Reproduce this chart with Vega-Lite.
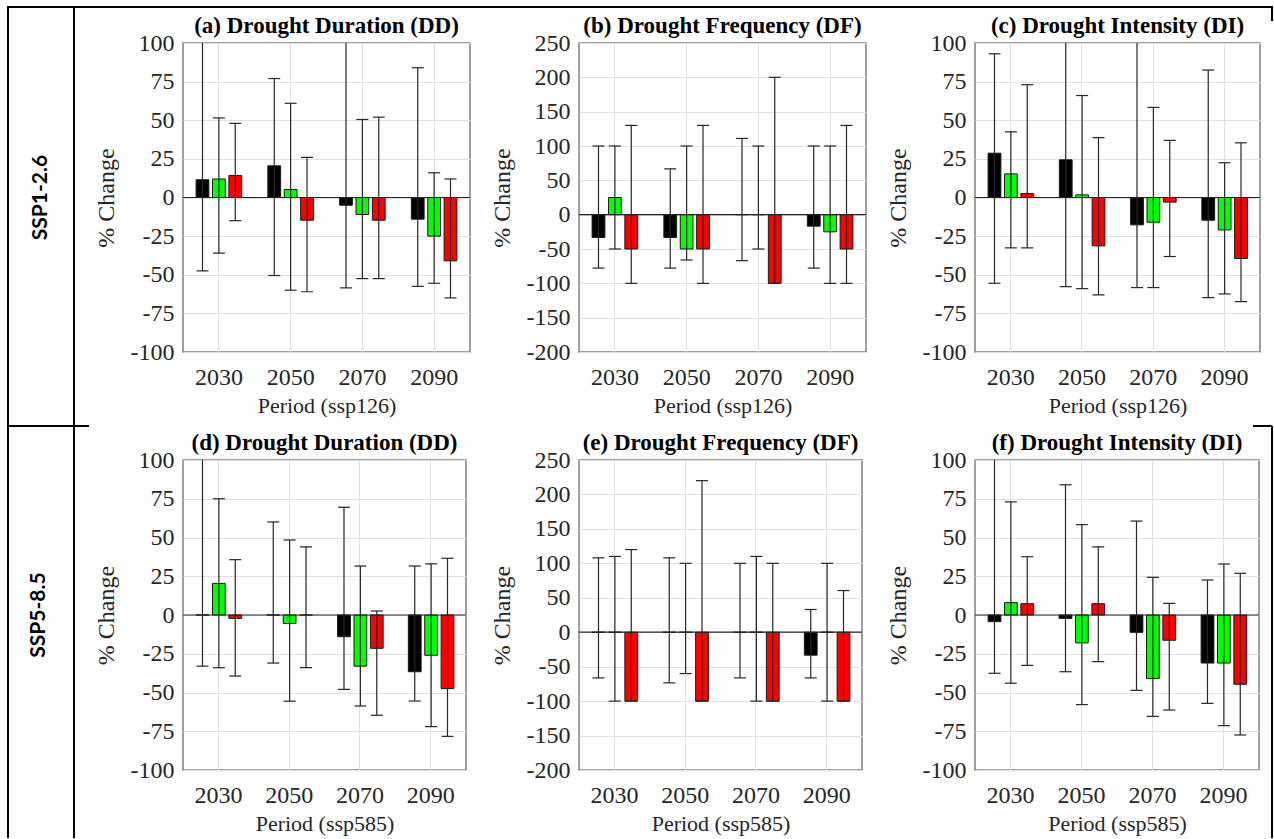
{
  "$schema": "https://vega.github.io/schema/vega-lite/v6.json",
  "background": "white",
  "padding": {"left": 6, "top": 5, "right": 0, "bottom": 0},
  "columns": 4,
  "align": "none",
  "bounds": "flush",
  "spacing": {"row": 108, "column": 109},
  "datasets": {
    "dd126": [
      {"period": "2030", "series": "A", "change": 11.5, "low": -47.5, "high": 125},
      {"period": "2030", "series": "B", "change": 12, "low": -36, "high": 51.5},
      {"period": "2030", "series": "C", "change": 14.3, "low": -15, "high": 48},
      {"period": "2050", "series": "A", "change": 20.5, "low": -50.5, "high": 77},
      {"period": "2050", "series": "B", "change": 5.2, "low": -60, "high": 61},
      {"period": "2050", "series": "C", "change": -14.7, "low": -61, "high": 26},
      {"period": "2070", "series": "A", "change": -5, "low": -58.5, "high": 125},
      {"period": "2070", "series": "B", "change": -11, "low": -52.5, "high": 50.5},
      {"period": "2070", "series": "C", "change": -14.7, "low": -52.5, "high": 52},
      {"period": "2090", "series": "A", "change": -14, "low": -57.5, "high": 84},
      {"period": "2090", "series": "B", "change": -25, "low": -55.5, "high": 16},
      {"period": "2090", "series": "C", "change": -41, "low": -65, "high": 12}
    ],
    "df126": [
      {"period": "2030", "series": "A", "change": -33.3, "low": -77.8, "high": 100},
      {"period": "2030", "series": "B", "change": 25, "low": -50, "high": 100},
      {"period": "2030", "series": "C", "change": -50, "low": -100, "high": 130},
      {"period": "2050", "series": "A", "change": -33.3, "low": -77.8, "high": 66.7},
      {"period": "2050", "series": "B", "change": -50, "low": -66, "high": 100},
      {"period": "2050", "series": "C", "change": -50, "low": -100, "high": 130},
      {"period": "2070", "series": "A", "change": 0, "low": -67, "high": 111},
      {"period": "2070", "series": "B", "change": 0, "low": -50, "high": 100},
      {"period": "2070", "series": "C", "change": -100, "low": -100, "high": 200},
      {"period": "2090", "series": "A", "change": -16.7, "low": -77.8, "high": 100},
      {"period": "2090", "series": "B", "change": -25, "low": -100, "high": 100},
      {"period": "2090", "series": "C", "change": -50, "low": -100, "high": 130}
    ],
    "di126": [
      {"period": "2030", "series": "A", "change": 28.7, "low": -55.5, "high": 93},
      {"period": "2030", "series": "B", "change": 15.3, "low": -32.6, "high": 42.5},
      {"period": "2030", "series": "C", "change": 2.6, "low": -32.6, "high": 73},
      {"period": "2050", "series": "A", "change": 24.4, "low": -57.7, "high": 125},
      {"period": "2050", "series": "B", "change": 1.7, "low": -59, "high": 66},
      {"period": "2050", "series": "C", "change": -31.3, "low": -63, "high": 38.7},
      {"period": "2070", "series": "A", "change": -17.7, "low": -58.3, "high": 125},
      {"period": "2070", "series": "B", "change": -16, "low": -58.3, "high": 58.3},
      {"period": "2070", "series": "C", "change": -3, "low": -38.2, "high": 37},
      {"period": "2090", "series": "A", "change": -14.7, "low": -64.8, "high": 82.5},
      {"period": "2090", "series": "B", "change": -21, "low": -62.4, "high": 22.5},
      {"period": "2090", "series": "C", "change": -39.5, "low": -67.4, "high": 35.4}
    ],
    "dd585": [
      {"period": "2030", "series": "A", "change": 0, "low": -33, "high": 125},
      {"period": "2030", "series": "B", "change": 20.4, "low": -34, "high": 75},
      {"period": "2030", "series": "C", "change": -2.2, "low": -39.4, "high": 35.7},
      {"period": "2050", "series": "A", "change": 0, "low": -31, "high": 60},
      {"period": "2050", "series": "B", "change": -5.5, "low": -55.6, "high": 48.4},
      {"period": "2050", "series": "C", "change": 0, "low": -34, "high": 44},
      {"period": "2070", "series": "A", "change": -14, "low": -48, "high": 69.5},
      {"period": "2070", "series": "B", "change": -33, "low": -58.7, "high": 31.6},
      {"period": "2070", "series": "C", "change": -21.5, "low": -64.7, "high": 2.6},
      {"period": "2090", "series": "A", "change": -36.6, "low": -55.5, "high": 31.6},
      {"period": "2090", "series": "B", "change": -26, "low": -72, "high": 33},
      {"period": "2090", "series": "C", "change": -47.5, "low": -78.3, "high": 36.6}
    ],
    "df585": [
      {"period": "2030", "series": "A", "change": 0, "low": -66.3, "high": 108},
      {"period": "2030", "series": "B", "change": 0, "low": -100, "high": 110},
      {"period": "2030", "series": "C", "change": -100, "low": -100, "high": 120},
      {"period": "2050", "series": "A", "change": 0, "low": -73.5, "high": 108},
      {"period": "2050", "series": "B", "change": 0, "low": -60, "high": 100},
      {"period": "2050", "series": "C", "change": -100, "low": -100, "high": 220},
      {"period": "2070", "series": "A", "change": 0, "low": -66.3, "high": 100},
      {"period": "2070", "series": "B", "change": 0, "low": -100, "high": 110},
      {"period": "2070", "series": "C", "change": -100, "low": -100, "high": 100},
      {"period": "2090", "series": "A", "change": -33.3, "low": -66.3, "high": 33},
      {"period": "2090", "series": "B", "change": 0, "low": -100, "high": 100},
      {"period": "2090", "series": "C", "change": -100, "low": -100, "high": 60.5}
    ],
    "di585": [
      {"period": "2030", "series": "A", "change": -4.3, "low": -37.6, "high": 125},
      {"period": "2030", "series": "B", "change": 8, "low": -44, "high": 73},
      {"period": "2030", "series": "C", "change": 7.3, "low": -32.5, "high": 37.6},
      {"period": "2050", "series": "A", "change": -2.2, "low": -36.6, "high": 84},
      {"period": "2050", "series": "B", "change": -18, "low": -57.8, "high": 58.3},
      {"period": "2050", "series": "C", "change": 7.3, "low": -30.1, "high": 43.9},
      {"period": "2070", "series": "A", "change": -11.2, "low": -48.6, "high": 60.6},
      {"period": "2070", "series": "B", "change": -41, "low": -65.4, "high": 24.3},
      {"period": "2070", "series": "C", "change": -16.3, "low": -61.3, "high": 7.5},
      {"period": "2090", "series": "A", "change": -31, "low": -57, "high": 22.6},
      {"period": "2090", "series": "B", "change": -31, "low": -71.4, "high": 32.9},
      {"period": "2090", "series": "C", "change": -44.7, "low": -77.4, "high": 26.9}
    ]
  },
  "concat": [
    {
      "width": 66, "height": 309,
      "view": {"stroke": null},
      "data": {"values": [{"scenario": "SSP1-2.6"}]},
      "layer": [
        {"mark": {"type": "text", "font": "Lato", "fontWeight": "bold", "fontSize": 21, "angle": 270, "color": "#000000"},
         "encoding": {"text": {"field": "scenario"}}},
        {"mark": {"type": "rule", "color": "#000000", "strokeWidth": 2, "clip": false, "strokeCap": "square"},
         "encoding": {"x": {"datum": 0, "scale": {"domain": [0, 1], "nice": false, "zero": false}, "axis": null}, "x2": {"datum": 19.1515}, "y": {"datum": 1.1165, "scale": {"domain": [0, 1], "nice": false, "zero": false}, "axis": null}}},
        {"mark": {"type": "rule", "color": "#000000", "strokeWidth": 2, "clip": false},
         "encoding": {"x": {"datum": 0, "scale": {"domain": [0, 1], "nice": false, "zero": false}, "axis": null}, "y": {"datum": 1.1165, "scale": {"domain": [0, 1], "nice": false, "zero": false}, "axis": null}, "y2": {"datum": -1.5728}}},
        {"mark": {"type": "rule", "color": "#000000", "strokeWidth": 2, "clip": false},
         "encoding": {"x": {"datum": 1, "scale": {"domain": [0, 1], "nice": false, "zero": false}, "axis": null}, "y": {"datum": 1.1165, "scale": {"domain": [0, 1], "nice": false, "zero": false}, "axis": null}, "y2": {"datum": -1.5728}}},
        {"mark": {"type": "rule", "color": "#000000", "strokeWidth": 2, "clip": false},
         "encoding": {"x": {"datum": 19.1515, "scale": {"domain": [0, 1], "nice": false, "zero": false}, "axis": null}, "y": {"datum": 1.1165, "scale": {"domain": [0, 1], "nice": false, "zero": false}, "axis": null}, "y2": {"datum": 1.0712}}},
        {"mark": {"type": "rule", "color": "#000000", "strokeWidth": 2, "clip": false},
         "encoding": {"x": {"datum": 19.1515, "scale": {"domain": [0, 1], "nice": false, "zero": false}, "axis": null}, "y": {"datum": -0.2395, "scale": {"domain": [0, 1], "nice": false, "zero": false}, "axis": null}, "y2": {"datum": -1.5728}}},
        {"mark": {"type": "rule", "color": "#000000", "strokeWidth": 2, "clip": false},
         "encoding": {"x": {"datum": 0, "scale": {"domain": [0, 1], "nice": false, "zero": false}, "axis": null}, "x2": {"datum": 1.227}, "y": {"datum": -0.2395, "scale": {"domain": [0, 1], "nice": false, "zero": false}, "axis": null}}},
        {"mark": {"type": "rule", "color": "#000000", "strokeWidth": 2, "clip": false},
         "encoding": {"x": {"datum": 18.864, "scale": {"domain": [0, 1], "nice": false, "zero": false}, "axis": null}, "x2": {"datum": 19.1515}, "y": {"datum": -0.2395, "scale": {"domain": [0, 1], "nice": false, "zero": false}, "axis": null}}}
      ]
    },
    {
      "width": 287, "height": 309,
      "title": "(a) Drought Duration (DD)",
      "data": {"name": "dd126"},
      "layer": [
        {"mark": {"type": "bar", "clip": true, "opacity": 1, "stroke": "#1a1a1a", "strokeWidth": 1},
         "encoding": {
           "x": {"field": "period", "type": "nominal", "scale": {"paddingInner": 0, "paddingOuter": 0}, "axis": {"title": "Period (ssp126)", "grid": true, "bandPosition": 0.5}},
           "xOffset": {"field": "series", "type": "nominal", "scale": {"paddingInner": 0.22, "paddingOuter": 0.8}},
           "y": {"field": "change", "type": "quantitative", "title": "% Change", "scale": {"domain": [-100, 100], "nice": false, "zero": false}, "axis": {"values": [-100, -75, -50, -25, 0, 25, 50, 75, 100]}},
           "y2": {"datum": 0},
           "color": {"field": "series", "type": "nominal", "scale": {"domain": ["A", "B", "C"], "range": ["#000000", "#00ff00", "#ff0000"]}, "legend": null}
         }},
        {"data": {"values": [{}]}, "mark": {"type": "rule", "color": "#262626", "strokeWidth": 1.2},
         "encoding": {"y": {"datum": 0, "axis": {"values": [-100, -75, -50, -25, 0, 25, 50, 75, 100]}}}},
        {"mark": {"type": "rule", "color": "#262626", "strokeWidth": 1.2, "clip": true},
         "encoding": {"x": {"field": "period", "type": "nominal"}, "xOffset": {"field": "series", "type": "nominal"},
           "y": {"field": "low", "type": "quantitative", "title": "% Change", "scale": {"domain": [-100, 100], "nice": false, "zero": false}, "axis": {"values": [-100, -75, -50, -25, 0, 25, 50, 75, 100]}}, "y2": {"field": "high"}}},
        {"mark": {"type": "tick", "color": "#262626", "size": 12, "thickness": 1.2, "opacity": 1, "clip": true},
         "encoding": {"x": {"field": "period", "type": "nominal"}, "xOffset": {"field": "series", "type": "nominal"},
           "y": {"field": "low", "type": "quantitative", "title": "% Change", "scale": {"domain": [-100, 100], "nice": false, "zero": false}, "axis": {"values": [-100, -75, -50, -25, 0, 25, 50, 75, 100]}}}},
        {"mark": {"type": "tick", "color": "#262626", "size": 12, "thickness": 1.2, "opacity": 1, "clip": true},
         "encoding": {"x": {"field": "period", "type": "nominal"}, "xOffset": {"field": "series", "type": "nominal"},
           "y": {"field": "high", "type": "quantitative", "title": "% Change", "scale": {"domain": [-100, 100], "nice": false, "zero": false}, "axis": {"values": [-100, -75, -50, -25, 0, 25, 50, 75, 100]}}}}
      ]
    },
    {
      "width": 287, "height": 309,
      "title": "(b) Drought Frequency (DF)",
      "data": {"name": "df126"},
      "layer": [
        {"mark": {"type": "bar", "clip": true, "opacity": 1, "stroke": "#1a1a1a", "strokeWidth": 1},
         "encoding": {
           "x": {"field": "period", "type": "nominal", "scale": {"paddingInner": 0, "paddingOuter": 0}, "axis": {"title": "Period (ssp126)", "grid": true, "bandPosition": 0.5}},
           "xOffset": {"field": "series", "type": "nominal", "scale": {"paddingInner": 0.22, "paddingOuter": 0.8}},
           "y": {"field": "change", "type": "quantitative", "title": "% Change", "scale": {"domain": [-200, 250], "nice": false, "zero": false}, "axis": {"values": [-200, -150, -100, -50, 0, 50, 100, 150, 200, 250]}},
           "y2": {"datum": 0},
           "color": {"field": "series", "type": "nominal", "scale": {"domain": ["A", "B", "C"], "range": ["#000000", "#00ff00", "#ff0000"]}, "legend": null}
         }},
        {"data": {"values": [{}]}, "mark": {"type": "rule", "color": "#262626", "strokeWidth": 1.2},
         "encoding": {"y": {"datum": 0, "axis": {"values": [-200, -150, -100, -50, 0, 50, 100, 150, 200, 250]}}}},
        {"mark": {"type": "rule", "color": "#262626", "strokeWidth": 1.2, "clip": true},
         "encoding": {"x": {"field": "period", "type": "nominal"}, "xOffset": {"field": "series", "type": "nominal"},
           "y": {"field": "low", "type": "quantitative", "title": "% Change", "scale": {"domain": [-200, 250], "nice": false, "zero": false}, "axis": {"values": [-200, -150, -100, -50, 0, 50, 100, 150, 200, 250]}}, "y2": {"field": "high"}}},
        {"mark": {"type": "tick", "color": "#262626", "size": 12, "thickness": 1.2, "opacity": 1, "clip": true},
         "encoding": {"x": {"field": "period", "type": "nominal"}, "xOffset": {"field": "series", "type": "nominal"},
           "y": {"field": "low", "type": "quantitative", "title": "% Change", "scale": {"domain": [-200, 250], "nice": false, "zero": false}, "axis": {"values": [-200, -150, -100, -50, 0, 50, 100, 150, 200, 250]}}}},
        {"mark": {"type": "tick", "color": "#262626", "size": 12, "thickness": 1.2, "opacity": 1, "clip": true},
         "encoding": {"x": {"field": "period", "type": "nominal"}, "xOffset": {"field": "series", "type": "nominal"},
           "y": {"field": "high", "type": "quantitative", "title": "% Change", "scale": {"domain": [-200, 250], "nice": false, "zero": false}, "axis": {"values": [-200, -150, -100, -50, 0, 50, 100, 150, 200, 250]}}}}
      ]
    },
    {
      "width": 285, "height": 309,
      "title": "(c) Drought Intensity (DI)",
      "data": {"name": "di126"},
      "layer": [
        {"mark": {"type": "bar", "clip": true, "opacity": 1, "stroke": "#1a1a1a", "strokeWidth": 1},
         "encoding": {
           "x": {"field": "period", "type": "nominal", "scale": {"paddingInner": 0, "paddingOuter": 0}, "axis": {"title": "Period (ssp126)", "grid": true, "bandPosition": 0.5}},
           "xOffset": {"field": "series", "type": "nominal", "scale": {"paddingInner": 0.22, "paddingOuter": 0.8}},
           "y": {"field": "change", "type": "quantitative", "title": "% Change", "scale": {"domain": [-100, 100], "nice": false, "zero": false}, "axis": {"values": [-100, -75, -50, -25, 0, 25, 50, 75, 100]}},
           "y2": {"datum": 0},
           "color": {"field": "series", "type": "nominal", "scale": {"domain": ["A", "B", "C"], "range": ["#000000", "#00ff00", "#ff0000"]}, "legend": null}
         }},
        {"data": {"values": [{}]}, "mark": {"type": "rule", "color": "#262626", "strokeWidth": 1.2},
         "encoding": {"y": {"datum": 0, "axis": {"values": [-100, -75, -50, -25, 0, 25, 50, 75, 100]}}}},
        {"mark": {"type": "rule", "color": "#262626", "strokeWidth": 1.2, "clip": true},
         "encoding": {"x": {"field": "period", "type": "nominal"}, "xOffset": {"field": "series", "type": "nominal"},
           "y": {"field": "low", "type": "quantitative", "title": "% Change", "scale": {"domain": [-100, 100], "nice": false, "zero": false}, "axis": {"values": [-100, -75, -50, -25, 0, 25, 50, 75, 100]}}, "y2": {"field": "high"}}},
        {"mark": {"type": "tick", "color": "#262626", "size": 12, "thickness": 1.2, "opacity": 1, "clip": true},
         "encoding": {"x": {"field": "period", "type": "nominal"}, "xOffset": {"field": "series", "type": "nominal"},
           "y": {"field": "low", "type": "quantitative", "title": "% Change", "scale": {"domain": [-100, 100], "nice": false, "zero": false}, "axis": {"values": [-100, -75, -50, -25, 0, 25, 50, 75, 100]}}}},
        {"mark": {"type": "tick", "color": "#262626", "size": 12, "thickness": 1.2, "opacity": 1, "clip": true},
         "encoding": {"x": {"field": "period", "type": "nominal"}, "xOffset": {"field": "series", "type": "nominal"},
           "y": {"field": "high", "type": "quantitative", "title": "% Change", "scale": {"domain": [-100, 100], "nice": false, "zero": false}, "axis": {"values": [-100, -75, -50, -25, 0, 25, 50, 75, 100]}}}}
      ]
    },
    {
      "width": 61, "height": 310,
      "view": {"stroke": null},
      "data": {"values": [{"scenario": "SSP5-8.5"}]},
      "mark": {"type": "text", "font": "Lato", "fontWeight": "bold", "fontSize": 21, "angle": 270, "color": "#000000"},
      "encoding": {"text": {"field": "scenario"}}
    },
    {
      "width": 283, "height": 310,
      "title": "(d) Drought Duration (DD)",
      "data": {"name": "dd585"},
      "layer": [
        {"mark": {"type": "bar", "clip": true, "opacity": 1, "stroke": "#1a1a1a", "strokeWidth": 1},
         "encoding": {
           "x": {"field": "period", "type": "nominal", "scale": {"paddingInner": 0, "paddingOuter": 0}, "axis": {"title": "Period (ssp585)", "grid": true, "bandPosition": 0.5}},
           "xOffset": {"field": "series", "type": "nominal", "scale": {"paddingInner": 0.22, "paddingOuter": 0.8}},
           "y": {"field": "change", "type": "quantitative", "title": "% Change", "scale": {"domain": [-100, 100], "nice": false, "zero": false}, "axis": {"values": [-100, -75, -50, -25, 0, 25, 50, 75, 100]}},
           "y2": {"datum": 0},
           "color": {"field": "series", "type": "nominal", "scale": {"domain": ["A", "B", "C"], "range": ["#000000", "#00ff00", "#ff0000"]}, "legend": null}
         }},
        {"data": {"values": [{}]}, "mark": {"type": "rule", "color": "#262626", "strokeWidth": 1.2},
         "encoding": {"y": {"datum": 0, "axis": {"values": [-100, -75, -50, -25, 0, 25, 50, 75, 100]}}}},
        {"mark": {"type": "rule", "color": "#262626", "strokeWidth": 1.2, "clip": true},
         "encoding": {"x": {"field": "period", "type": "nominal"}, "xOffset": {"field": "series", "type": "nominal"},
           "y": {"field": "low", "type": "quantitative", "title": "% Change", "scale": {"domain": [-100, 100], "nice": false, "zero": false}, "axis": {"values": [-100, -75, -50, -25, 0, 25, 50, 75, 100]}}, "y2": {"field": "high"}}},
        {"mark": {"type": "tick", "color": "#262626", "size": 12, "thickness": 1.2, "opacity": 1, "clip": true},
         "encoding": {"x": {"field": "period", "type": "nominal"}, "xOffset": {"field": "series", "type": "nominal"},
           "y": {"field": "low", "type": "quantitative", "title": "% Change", "scale": {"domain": [-100, 100], "nice": false, "zero": false}, "axis": {"values": [-100, -75, -50, -25, 0, 25, 50, 75, 100]}}}},
        {"mark": {"type": "tick", "color": "#262626", "size": 12, "thickness": 1.2, "opacity": 1, "clip": true},
         "encoding": {"x": {"field": "period", "type": "nominal"}, "xOffset": {"field": "series", "type": "nominal"},
           "y": {"field": "high", "type": "quantitative", "title": "% Change", "scale": {"domain": [-100, 100], "nice": false, "zero": false}, "axis": {"values": [-100, -75, -50, -25, 0, 25, 50, 75, 100]}}}}
      ]
    },
    {
      "width": 283, "height": 310,
      "title": "(e) Drought Frequency (DF)",
      "data": {"name": "df585"},
      "layer": [
        {"mark": {"type": "bar", "clip": true, "opacity": 1, "stroke": "#1a1a1a", "strokeWidth": 1},
         "encoding": {
           "x": {"field": "period", "type": "nominal", "scale": {"paddingInner": 0, "paddingOuter": 0}, "axis": {"title": "Period (ssp585)", "grid": true, "bandPosition": 0.5}},
           "xOffset": {"field": "series", "type": "nominal", "scale": {"paddingInner": 0.22, "paddingOuter": 0.8}},
           "y": {"field": "change", "type": "quantitative", "title": "% Change", "scale": {"domain": [-200, 250], "nice": false, "zero": false}, "axis": {"values": [-200, -150, -100, -50, 0, 50, 100, 150, 200, 250]}},
           "y2": {"datum": 0},
           "color": {"field": "series", "type": "nominal", "scale": {"domain": ["A", "B", "C"], "range": ["#000000", "#00ff00", "#ff0000"]}, "legend": null}
         }},
        {"data": {"values": [{}]}, "mark": {"type": "rule", "color": "#262626", "strokeWidth": 1.2},
         "encoding": {"y": {"datum": 0, "axis": {"values": [-200, -150, -100, -50, 0, 50, 100, 150, 200, 250]}}}},
        {"mark": {"type": "rule", "color": "#262626", "strokeWidth": 1.2, "clip": true},
         "encoding": {"x": {"field": "period", "type": "nominal"}, "xOffset": {"field": "series", "type": "nominal"},
           "y": {"field": "low", "type": "quantitative", "title": "% Change", "scale": {"domain": [-200, 250], "nice": false, "zero": false}, "axis": {"values": [-200, -150, -100, -50, 0, 50, 100, 150, 200, 250]}}, "y2": {"field": "high"}}},
        {"mark": {"type": "tick", "color": "#262626", "size": 12, "thickness": 1.2, "opacity": 1, "clip": true},
         "encoding": {"x": {"field": "period", "type": "nominal"}, "xOffset": {"field": "series", "type": "nominal"},
           "y": {"field": "low", "type": "quantitative", "title": "% Change", "scale": {"domain": [-200, 250], "nice": false, "zero": false}, "axis": {"values": [-200, -150, -100, -50, 0, 50, 100, 150, 200, 250]}}}},
        {"mark": {"type": "tick", "color": "#262626", "size": 12, "thickness": 1.2, "opacity": 1, "clip": true},
         "encoding": {"x": {"field": "period", "type": "nominal"}, "xOffset": {"field": "series", "type": "nominal"},
           "y": {"field": "high", "type": "quantitative", "title": "% Change", "scale": {"domain": [-200, 250], "nice": false, "zero": false}, "axis": {"values": [-200, -150, -100, -50, 0, 50, 100, 150, 200, 250]}}}}
      ]
    },
    {
      "width": 284, "height": 310,
      "title": "(f) Drought Intensity (DI)",
      "data": {"name": "di585"},
      "layer": [
        {"mark": {"type": "bar", "clip": true, "opacity": 1, "stroke": "#1a1a1a", "strokeWidth": 1},
         "encoding": {
           "x": {"field": "period", "type": "nominal", "scale": {"paddingInner": 0, "paddingOuter": 0}, "axis": {"title": "Period (ssp585)", "grid": true, "bandPosition": 0.5}},
           "xOffset": {"field": "series", "type": "nominal", "scale": {"paddingInner": 0.22, "paddingOuter": 0.8}},
           "y": {"field": "change", "type": "quantitative", "title": "% Change", "scale": {"domain": [-100, 100], "nice": false, "zero": false}, "axis": {"values": [-100, -75, -50, -25, 0, 25, 50, 75, 100]}},
           "y2": {"datum": 0},
           "color": {"field": "series", "type": "nominal", "scale": {"domain": ["A", "B", "C"], "range": ["#000000", "#00ff00", "#ff0000"]}, "legend": null}
         }},
        {"data": {"values": [{}]}, "mark": {"type": "rule", "color": "#262626", "strokeWidth": 1.2},
         "encoding": {"y": {"datum": 0, "axis": {"values": [-100, -75, -50, -25, 0, 25, 50, 75, 100]}}}},
        {"mark": {"type": "rule", "color": "#262626", "strokeWidth": 1.2, "clip": true},
         "encoding": {"x": {"field": "period", "type": "nominal"}, "xOffset": {"field": "series", "type": "nominal"},
           "y": {"field": "low", "type": "quantitative", "title": "% Change", "scale": {"domain": [-100, 100], "nice": false, "zero": false}, "axis": {"values": [-100, -75, -50, -25, 0, 25, 50, 75, 100]}}, "y2": {"field": "high"}}},
        {"mark": {"type": "tick", "color": "#262626", "size": 12, "thickness": 1.2, "opacity": 1, "clip": true},
         "encoding": {"x": {"field": "period", "type": "nominal"}, "xOffset": {"field": "series", "type": "nominal"},
           "y": {"field": "low", "type": "quantitative", "title": "% Change", "scale": {"domain": [-100, 100], "nice": false, "zero": false}, "axis": {"values": [-100, -75, -50, -25, 0, 25, 50, 75, 100]}}}},
        {"mark": {"type": "tick", "color": "#262626", "size": 12, "thickness": 1.2, "opacity": 1, "clip": true},
         "encoding": {"x": {"field": "period", "type": "nominal"}, "xOffset": {"field": "series", "type": "nominal"},
           "y": {"field": "high", "type": "quantitative", "title": "% Change", "scale": {"domain": [-100, 100], "nice": false, "zero": false}, "axis": {"values": [-100, -75, -50, -25, 0, 25, 50, 75, 100]}}}}
      ]
    }
  ],
  "config": {
    "font": "Liberation Serif",
    "view": {"stroke": "#808080", "strokeWidth": 1.5},
    "axis": {
      "labelFont": "Liberation Serif", "labelFontSize": 24, "labelColor": "#262626",
      "titleFont": "Liberation Serif", "titleFontSize": 22, "titleFontWeight": "normal", "titleColor": "#262626",
      "domain": false, "ticks": false, "tickSize": 0,
      "grid": true, "gridColor": "#e0e0e0", "gridWidth": 1,
      "labelOverlap": false, "labelFlush": false
    },
    "axisX": {"labelAngle": 0, "labelPadding": 13, "titlePadding": 6},
    "axisY": {"labelPadding": 9, "titlePadding": 12, "titleFontSize": 24, "labelExpr": "replace(datum.label, '\u2212', '-')"},
    "title": {"font": "Liberation Serif", "fontSize": 23, "fontWeight": "bold", "color": "#000000", "offset": -7, "anchor": "middle"}
  }
}
